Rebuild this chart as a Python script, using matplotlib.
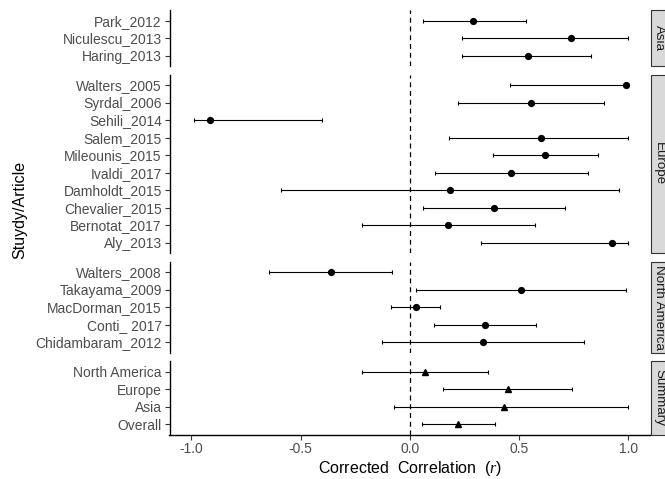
import matplotlib
matplotlib.use("Agg")
import matplotlib.pyplot as plt
from matplotlib.patches import Rectangle

plt.rcParams['font.family'] = ['Liberation Sans', 'DejaVu Sans']
plt.rcParams['mathtext.fontset'] = 'custom'
plt.rcParams['mathtext.it'] = 'Liberation Serif:italic'
plt.rcParams['mathtext.rm'] = 'Liberation Sans'

# facet groups, top to bottom
groups = ["Asia", "Europe", "North America", "Summary"]

asia_studies = ["Park_2012", "Niculescu_2013", "Haring_2013"]
asia_r = [0.29, 0.74, 0.54]
asia_lo = [0.06, 0.24, 0.24]
asia_hi = [0.53, 1.00, 0.83]

europe_studies = ["Walters_2005", "Syrdal_2006", "Sehili_2014", "Salem_2015",
                  "Mileounis_2015", "Ivaldi_2017", "Damholdt_2015",
                  "Chevalier_2015", "Bernotat_2017", "Aly_2013"]
europe_r = [0.99, 0.555, -0.915, 0.60, 0.62, 0.465, 0.185, 0.385, 0.175, 0.925]
europe_lo = [0.46, 0.22, -0.99, 0.18, 0.38, 0.115, -0.59, 0.06, -0.22, 0.325]
europe_hi = [1.00, 0.89, -0.40, 1.00, 0.86, 0.815, 0.96, 0.71, 0.575, 1.00]

na_studies = ["Walters_2008", "Takayama_2009", "MacDorman_2015", "Conti_ 2017",
              "Chidambaram_2012"]
na_r = [-0.36, 0.51, 0.03, 0.345, 0.335]
na_lo = [-0.645, 0.03, -0.085, 0.11, -0.125]
na_hi = [-0.08, 0.99, 0.14, 0.58, 0.80]

summary_labels = ["North America", "Europe", "Asia", "Overall"]
summary_r = [0.07, 0.45, 0.43, 0.22]
summary_lo = [-0.22, 0.15, -0.07, 0.055]
summary_hi = [0.36, 0.745, 1.00, 0.39]

x_ticks = [-1.0, -0.5, 0.0, 0.5, 1.0]

panels = [
    (asia_studies, asia_r, asia_lo, asia_hi, "o"),
    (europe_studies, europe_r, europe_lo, europe_hi, "o"),
    (na_studies, na_r, na_lo, na_hi, "o"),
    (summary_labels, summary_r, summary_lo, summary_hi, "^"),
]

W, H = 665, 479
fig = plt.figure(figsize=(W / 100, H / 100), dpi=100)

left_px, right_px = 169.5, 650
top_px, bottom_px = 10, 434.5
gap_px = 8.5
units = [len(p[0]) - 1 + 1.2 for p in panels]
unit_px = (bottom_px - top_px - gap_px * (len(panels) - 1)) / sum(units)

grey30 = "#4D4D4D"
tick_fs = 10
y_cur = top_px
for i, (labels, r, lo, hi, mk) in enumerate(panels):
    h = units[i] * unit_px
    ax = fig.add_axes([left_px / W, 1 - (y_cur + h) / H,
                       (right_px - left_px) / W, h / H])
    n = len(labels)
    ypos = list(range(n))
    xerr = [[r[k] - lo[k] for k in range(n)], [hi[k] - r[k] for k in range(n)]]
    ax.errorbar(r, ypos, xerr=xerr, fmt=mk, color="black", ms=4.2 if mk == "o" else 4.6,
                ecolor="black", elinewidth=0.8, capsize=1.6, capthick=0.8, zorder=3)
    ax.axvline(0, color="black", ls=(0, (4, 3)), lw=0.9, zorder=2)
    ax.set_xlim(-1.1, 1.1)
    ax.set_ylim(n - 1 + 0.6, -0.6)
    ax.set_yticks(ypos)
    ax.set_yticklabels(labels, color=grey30, fontsize=tick_fs)
    ax.tick_params(axis="y", length=3.5, width=0.8, color="#333333", pad=2)
    for s in ["top", "right"]:
        ax.spines[s].set_visible(False)
    ax.spines["left"].set_linewidth(1.0)
    ax.spines["bottom"].set_linewidth(1.0)
    if i < len(panels) - 1:
        ax.spines["bottom"].set_visible(False)
        ax.set_xticks([])
    else:
        ax.set_xticks(x_ticks)
        ax.set_xticklabels([f"{t:.1f}" for t in x_ticks], color=grey30, fontsize=tick_fs)
        ax.tick_params(axis="x", length=3.5, width=0.8, color="#333333", pad=2)
        ax.set_xlabel("Corrected  Correlation  $\\mathit{(r)}$", fontsize=11.5, labelpad=2)

    # facet strip on the right
    strip = Rectangle((right_px / W + 0.5 / W, 1 - (y_cur + h) / H), 20 / W, h / H,
                      transform=fig.transFigure, facecolor="#D9D9D9",
                      edgecolor="#333333", lw=0.8, clip_on=False)
    fig.patches.append(strip)
    fig.text((right_px + 9) / W, 1 - (y_cur + h / 2) / H, groups[i], rotation=-90,
             ha="center", va="center", fontsize=9.6, color="#1A1A1A")
    y_cur += h + gap_px

fig.text(20 / W, 1 - 210 / H, "Stuydy/Article", rotation=90, ha="center",
         va="center", fontsize=11.5)

fig.savefig("out.png", dpi=100)
